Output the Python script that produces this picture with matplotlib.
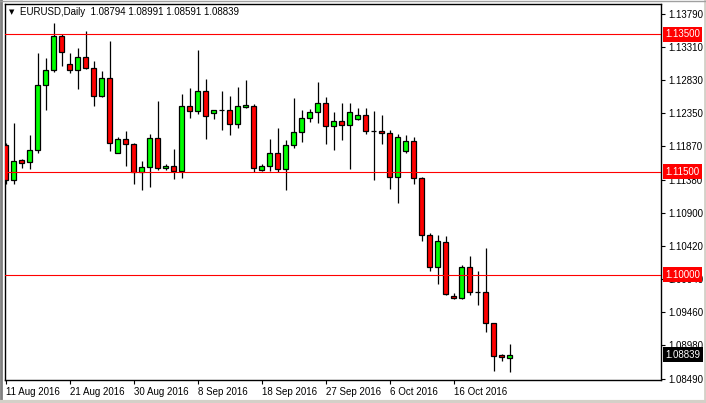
#! /usr/bin/env python3

import matplotlib
matplotlib.use('Agg')
import matplotlib.pyplot as plt
from matplotlib.patches import Rectangle
from matplotlib.lines import Line2D
import numpy as np

# EURUSD daily bars, 11 Aug 2016 .. 24 Oct 2016 (broker with Sunday bars)
opens = [1.11889, 1.11380, 1.11671, 1.11637, 1.11812, 1.12757, 1.12975, 1.13470,
         1.13063, 1.12975, 1.13165, 1.13005, 1.12597, 1.12859, 1.11768, 1.11972,
         1.11899, 1.11492, 1.11565, 1.11986, 1.11550, 1.11579, 1.11506, 1.12452,
         1.12379, 1.12670, 1.12350, 1.12396, 1.12394, 1.12190, 1.12437, 1.12452,
         1.11521, 1.11579, 1.11768, 1.11535, 1.11885, 1.12074, 1.12277, 1.12365,
         1.12496, 1.12161, 1.12234, 1.12176, 1.12263, 1.12321, 1.12090, 1.12088,
         1.12059, 1.11419, 1.11797, 1.11943, 1.11405, 1.10575, 1.10110, 1.10474,
         1.09688, 1.09659, 1.10110, 1.09748, 1.09746, 1.09296, 1.08830, 1.08794]
highs = [1.11918, 1.12209, 1.11685, 1.12034, 1.13227, 1.13150, 1.13659, 1.13499,
         1.13223, 1.13295, 1.13543, 1.13106, 1.12961, 1.13397, 1.12001, 1.12088,
         1.11918, 1.11652, 1.12045, 1.12525, 1.11608, 1.11826, 1.12626, 1.12714,
         1.13266, 1.12845, 1.12398, 1.12674, 1.12597, 1.12728, 1.12830, 1.12481,
         1.11608, 1.11976, 1.12132, 1.11957, 1.12573, 1.12394, 1.12408, 1.12801,
         1.12583, 1.12365, 1.12496, 1.12496, 1.12423, 1.12420, 1.12379, 1.12321,
         1.12103, 1.12045, 1.12030, 1.12005, 1.11423, 1.10605, 1.10575, 1.10561,
         1.09732, 1.10139, 1.10270, 1.10052, 1.10386, 1.09300, 1.08845, 1.08991]
lows = [1.11322, 1.11322, 1.11554, 1.11540, 1.11773, 1.12398, 1.12946, 1.13034,
        1.12932, 1.12699, 1.12990, 1.12452, 1.12583, 1.11797, 1.11768, 1.11579,
        1.11317, 1.11234, 1.11274, 1.11525, 1.11521, 1.11390, 1.11405, 1.12277,
        1.12340, 1.11983, 1.12270, 1.12103, 1.12030, 1.12132, 1.12420, 1.11492,
        1.11511, 1.11511, 1.11492, 1.11230, 1.11841, 1.11928, 1.12224, 1.12205,
        1.11899, 1.11812, 1.11957, 1.11535, 1.12248, 1.12045, 1.11375, 1.11899,
        1.11245, 1.11041, 1.11768, 1.11317, 1.10488, 1.10052, 1.09863, 1.09703,
        1.09656, 1.09645, 1.09703, 1.09557, 1.09165, 1.08597, 1.08743, 1.08591]
closes = [1.11380, 1.11656, 1.11634, 1.11812, 1.12757, 1.12980, 1.13470, 1.13237,
          1.12975, 1.13165, 1.13005, 1.12597, 1.12859, 1.11914, 1.11972, 1.11899,
          1.11492, 1.11565, 1.11986, 1.11550, 1.11579, 1.11506, 1.12452, 1.12379,
          1.12670, 1.12306, 1.12394, 1.12392, 1.12190, 1.12452, 1.12466, 1.11550,
          1.11579, 1.11768, 1.11535, 1.11885, 1.12074, 1.12277, 1.12365, 1.12496,
          1.12161, 1.12234, 1.12176, 1.12365, 1.12321, 1.12088, 1.12086, 1.12059,
          1.11419, 1.12001, 1.11943, 1.11405, 1.10575, 1.10110, 1.10488, 1.09717,
          1.09659, 1.10110, 1.09746, 1.09744, 1.09296, 1.08816, 1.08801, 1.08839]

date_ticks = [0, 8, 16, 24, 32, 40, 48, 56]
date_labels = ['11 Aug 2016', '21 Aug 2016', '30 Aug 2016', '8 Sep 2016',
               '18 Sep 2016', '27 Sep 2016', '6 Oct 2016', '16 Oct 2016']
price_ticks = [1.13790, 1.13310, 1.12830, 1.12350, 1.11870, 1.11380,
               1.10900, 1.10420, 1.09940, 1.09460, 1.08980, 1.08490]
level_lines = [1.13500, 1.11500, 1.10000]
header = 'EURUSD,Daily  1.08794 1.08991 1.08591 1.08839'
last_price = 1.08839

FONT = ['Liberation Sans', 'DejaVu Sans']
FS = 7


def mkplot():
    fig = plt.figure(figsize=(7.06, 4.03), dpi=100)
    W, H = 706.0, 403.0
    left, right, top, bottom = 4.5, 661.0, 4.3, 380.0
    ax = fig.add_axes([left / W, (H - bottom) / H, (right - left) / W, (bottom - top) / H])

    x = np.arange(len(opens))
    o = np.array(opens)
    c = np.array(closes)
    up = c >= o

    # wicks
    ax.vlines(x, lows, highs, color='black', lw=0.9, zorder=2)
    # bodies
    body_w = 0.55
    for i in x:
        lo_b, hi_b = min(o[i], c[i]), max(o[i], c[i])
        if hi_b - lo_b < 1e-5:
            ax.hlines(o[i], i - body_w / 2, i + body_w / 2, color='black', lw=0.9, zorder=3)
            continue
        ax.add_patch(Rectangle((i - body_w / 2, lo_b), body_w, hi_b - lo_b,
                               facecolor='#00ff00' if up[i] else '#ff0000',
                               edgecolor='black', lw=0.9, zorder=3))

    for lv in level_lines:
        ax.axhline(lv, color='#ff0000', lw=0.8, zorder=4)

    ax.set_xlim(-(5.5 - left) / 8.0, (right - 5.5) / 8.0)
    ymin = 1.1379 - (bottom - 14.3) / 6875.0
    ymax = 1.1379 + (14.3 - top) / 6875.0
    ax.set_ylim(ymin, ymax)

    ax.yaxis.tick_right()
    ax.set_yticks(price_ticks)
    ax.set_yticklabels(['%.5f' % p for p in price_ticks])
    ax.tick_params(axis='y', direction='out', length=3, width=0.8, pad=2,
                   labelsize=FS, colors='black')
    ax.set_xticks(date_ticks)
    ax.set_xticklabels(date_labels, ha='left')
    ax.tick_params(axis='x', direction='out', length=3, width=0.8, pad=2,
                   labelsize=FS, colors='black')
    for lab in ax.get_xticklabels() + ax.get_yticklabels():
        lab.set_family(FONT)

    for sp in ax.spines.values():
        sp.set_color('black')
        sp.set_linewidth(1.0)

    # price boxes on the scale
    for lv in level_lines:
        ax.annotate('%.5f' % lv, xy=(1.0, lv), xycoords=('axes fraction', 'data'),
                    xytext=(3, 0), textcoords='offset points', ha='left', va='center',
                    fontsize=FS, family=FONT, color='white', zorder=10,
                    bbox=dict(boxstyle='square,pad=0.25', fc='#ff0000', ec='none'),
                    annotation_clip=False)
    ax.annotate('%.5f' % last_price, xy=(1.0, last_price), xycoords=('axes fraction', 'data'),
                xytext=(3, 0), textcoords='offset points', ha='left', va='center',
                fontsize=FS, family=FONT, color='white', zorder=10,
                bbox=dict(boxstyle='square,pad=0.25', fc='black', ec='none'),
                annotation_clip=False)

    # header
    fig.text(12 / W, 1 - 12 / H, '\u25bc', fontsize=5, family=['DejaVu Sans'],
             ha='center', va='center')
    fig.text(20.5 / W, 1 - 12 / H, header, fontsize=FS, family=FONT,
             ha='left', va='center')

    # window frame
    fig.add_artist(Line2D([1 / W, 1 / W], [0, 1], color='#808080', lw=2, transform=fig.transFigure))
    fig.add_artist(Line2D([0, 1], [1.5 / H, 1.5 / H], color='#d4d0c8', lw=3, transform=fig.transFigure))
    fig.add_artist(Line2D([1 - 1 / W, 1 - 1 / W], [0, 1], color='#d4d0c8', lw=2, transform=fig.transFigure))
    fig.add_artist(Line2D([0, 1], [1 - 0.5 / H, 1 - 0.5 / H], color='#a0a0a0', lw=1, transform=fig.transFigure))

    fig.savefig('out.png', dpi=100, facecolor='white')


if __name__ == "__main__":
    mkplot()
